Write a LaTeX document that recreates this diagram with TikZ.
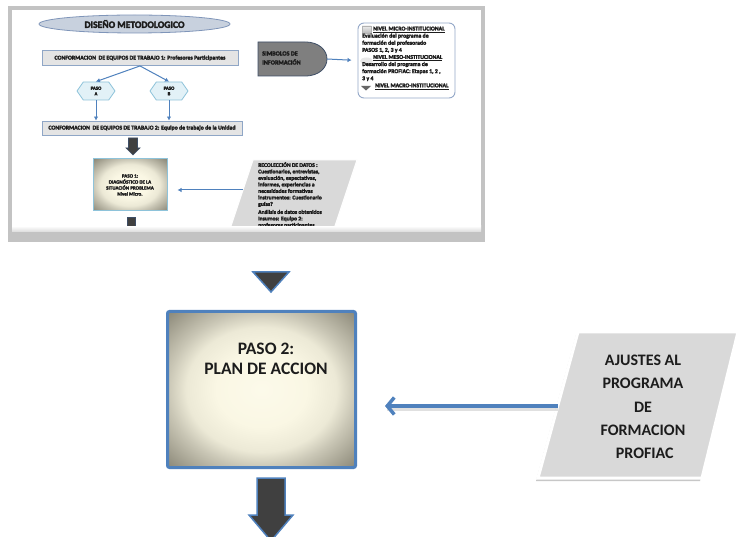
\documentclass[tikz,border=0pt]{standalone}
\usepackage{fontspec}
\setmainfont{Carlito}
% heavier face for the small reduced-size labels
\newfontfamily\thumbfont{Carlito}[FakeBold=3.2]
\usetikzlibrary{shapes.geometric,shapes.symbols,arrows.meta,shadows,calc}

\definecolor{ofblue}{HTML}{4F81BD}
\definecolor{bandgray}{HTML}{C3C3C3}
\definecolor{boxgray}{HTML}{D9D9D9}
\definecolor{darkfill}{HTML}{404040}
\definecolor{inktext}{HTML}{1C1C1C}
\definecolor{lightrim}{HTML}{8EC3DA}
\definecolor{hexfill}{HTML}{E2F1F7}
\definecolor{ellfill}{HTML}{C8D1DE}
\definecolor{ellrim}{HTML}{7F95B9}
\definecolor{rectfill}{HTML}{E4E4E4}
\definecolor{rectrim}{HTML}{8FA6C6}
\definecolor{symfill}{HTML}{7F7F7F}
\definecolor{symrim}{HTML}{3E4E66}
\definecolor{legrim}{HTML}{94A8C8}
\definecolor{vigA}{HTML}{FCFAEA}
\definecolor{vigB}{HTML}{FAF7E4}
\definecolor{vigC}{HTML}{ECE9D6}
\definecolor{vigD}{HTML}{C9C6B5}
\definecolor{vigE}{HTML}{8C8979}

% cream centre fading to a grey-brown rim
\pgfdeclareradialshading{vignette}{\pgfpoint{0bp}{0bp}}{%
  color(0bp)=(vigA); color(12bp)=(vigB); color(20bp)=(vigC);
  color(25bp)=(vigD); color(35bp)=(vigE); color(50bp)=(vigE)}

\begin{document}
\begin{tikzpicture}[x=1pt,y=-1pt,
  tinytext/.style={font=\thumbfont\bfseries\fontsize{5.6}{6.5}\selectfont, text=inktext, inner sep=0pt, align=left},
  headbox/.style={draw=rectrim, fill=rectfill, line width=0.9pt, inner sep=0pt,
    font=\thumbfont\bfseries\fontsize{5.8}{6}\selectfont, text=inktext},
  hexbox/.style={signal, signal to=east and west, signal pointer angle=110,
    draw=lightrim, fill=hexfill, line width=0.8pt, minimum width=38pt, minimum height=18pt,
    inner sep=0pt, align=center, font=\thumbfont\bfseries\fontsize{4.8}{5.6}\selectfont, text=inktext},
  thinarrow/.style={draw=ofblue, line width=1pt, -{Latex[length=4pt,width=4.5pt]}},
  blockarrow/.style={fill=darkfill, draw=ofblue, line width=1.5pt, line join=miter},
  smallblock/.style={fill=darkfill, draw=symrim, line width=0.7pt, line join=miter},
  bigarrow/.style={draw=ofblue, line width=3.5pt, -{Straight Barb[length=7pt,width=17pt]}},
  bigtext/.style={font=\bfseries\fontsize{17.5}{19.5}\selectfont, text=inktext, align=center, inner sep=0pt},
]
\useasboundingbox (0,0) rectangle (739,537);

% ---------- reduced view of the design diagram ----------
\fill[bandgray] (8,6) rectangle (485,242);
\fill[white] (12,10) rectangle (481,232);
\shade[top color=white, bottom color=bandgray!60] (12,226) rectangle (481,232);

\begin{scope}
\clip (12,10) rectangle (481,226);

\node[ellipse, draw=ellrim, fill=ellfill, line width=0.8pt, minimum width=191pt,
  minimum height=18pt, inner sep=0pt, font=\thumbfont\bfseries\fontsize{9.6}{10}\selectfont, text=inktext]
  (titulo) at (134.5,24) {DISEÑO METODOLOGICO};

\node[headbox, minimum width=196pt, minimum height=15pt] (equipo1) at (140,58)
  {CONFORMACION\ \ DE EQUIPOS DE TRABAJO 1: Profesores Participantes};

\node[hexbox] (pasoA) at (96,91) {PASO\\A};
\node[hexbox] (pasoB) at (169,91) {PASO\\B};

\node[headbox, minimum width=200pt, minimum height=14pt] (equipo2) at (142,128)
  {CONFORMACION\ \ DE EQUIPOS DE TRABAJO 2: Equipo de trabajo de la Unidad};

\draw[thinarrow] (equipo1.south) -- (pasoA.north);
\draw[thinarrow] (equipo1.south) -- (pasoB.north);
\draw[thinarrow] (pasoA.south) -- (equipo2.north -| pasoA.south);
\draw[thinarrow] (pasoB.south) -- (equipo2.north -| pasoB.south);

% block arrow into step 1
\draw[smallblock] (128.5,138) -- (137.5,138) -- (137.5,148) -- (140,148) -- (133,155)
  -- (126,148) -- (128.5,148) -- cycle;

\node[draw=lightrim, line width=1pt, shading=vignette, minimum width=74pt, minimum height=52pt,
  inner sep=0pt, align=center, font=\thumbfont\bfseries\fontsize{5}{6}\selectfont, text=inktext]
  (paso1) at (130,185) {PASO 1:\\DIAGNÓSTICO DE LA\\SITUACIÓN PROBLEMA\\Nivel Micro.};

\draw[smallblock] (127,217) rectangle (135,240);

% data collection input
\filldraw[fill=boxgray, draw=white, line width=1pt] (253,160) -- (357,160) -- (327,250) -- (223,250) -- cycle;
\coordinate (recL) at (243,190);
\node[tinytext, anchor=north west] (recoleccion) at (258,162)
  {RECOLECCIÓN DE DATOS :\\Cuestionarios, entrevistas,\\evaluación, expectativas,\\informes, experiencias a\\
   necesidades formativas\\instrumentos: Cuestionario\\guías?\\[1.5pt]Análisis de datos obtenidos\\
   Insumos: Equipo 2:\\profesores participantes};
\draw[thinarrow, shorten >=10pt] (recL) -- (recL -| paso1.east);

% information symbols and legend
\filldraw[fill=symfill, draw=symrim, line width=0.8pt] (258,42) -- (305,42)
  .. controls (320,42) and (327,51) .. (327,59) .. controls (327,67) and (320,76) .. (305,76)
  -- (258,76) -- cycle;
\coordinate (simbR) at (327,59);
\node[tinytext, font=\thumbfont\bfseries\fontsize{6.2}{9}\selectfont, anchor=west] (simbolos) at (262,58)
  {SIMBOLOS DE\\INFORMACIÓN};

\node[draw=legrim, line width=0.9pt, rounded corners=6pt, fill=white, minimum width=97pt,
  minimum height=75pt, inner sep=0pt] (leyenda) at (406.5,60.5) {};
\draw[thinarrow, shorten >=6pt] (simbR) -- (leyenda.west);

\shade[top color=gray!15, bottom color=gray!55, draw=gray!60, line width=0.4pt] (362,26) rectangle (371,33);
\fill[gray!18] (366.5,61) ellipse (6.5 and 3.5);
\fill[darkfill!80] (361,86) -- (371,86) -- (366,90.5) -- cycle;

\node[tinytext, font=\thumbfont\bfseries\fontsize{5.8}{7.1}\selectfont, anchor=north west] (leyendatxt) at (362,26.5)
  {\hspace{11pt}\underline{NIVEL MICRO-INSTITUCIONAL}\\Evaluación del programa de\\
   formación del profesorado\\PASOS 1, 2, 3 y 4\\\hspace{11pt}\underline{NIVEL MESO-INSTITUCIONAL}\\
   Desarrollo del programa de\\formación PROFIAC: Etapas 1, 2 ,\\3 y 4\\
   \hspace{13pt}\underline{NIVEL MACRO-INSTITUCIONAL}};
\end{scope}

% ---------- step 2 ----------
\draw[blockarrow] (253,272) -- (289,272) -- (271,292) -- cycle;

\node[draw=ofblue, line width=3pt, rounded corners=2pt, shading=vignette,
  minimum width=188pt, minimum height=156pt, inner sep=0pt] (paso2) at (261.5,389.5) {};
\node[bigtext] (paso2txt) at (266,359) {PASO 2:\\PLAN DE ACCION};

\draw[blockarrow] (257,478) -- (285,478) -- (285,515) -- (293,515) -- (271,541)
  -- (249,515) -- (257,515) -- cycle;

% adjustments input
\filldraw[fill=boxgray, draw=white, line width=3pt,
  drop shadow={shadow xshift=-2pt, shadow yshift=-3pt, opacity=0.22, fill=black}]
  (578,332) -- (738,332) -- (702,478) -- (538,478) -- cycle;
\coordinate (ajL) at (558,406);
\node[bigtext, font=\bfseries\fontsize{16}{23.3}\selectfont] (ajustes) at (643,407)
  {AJUSTES AL\\PROGRAMA\\DE\\FORMACION\\\ PROFIAC};

\draw[draw=black, opacity=0.12, line width=3.5pt] ($(ajL)+(0,3)$) -- ($(ajL -| paso2.east)+(30,3)$);
\draw[bigarrow, shorten >=28pt] (ajL) -- (ajL -| paso2.east);
\end{tikzpicture}
\end{document}
